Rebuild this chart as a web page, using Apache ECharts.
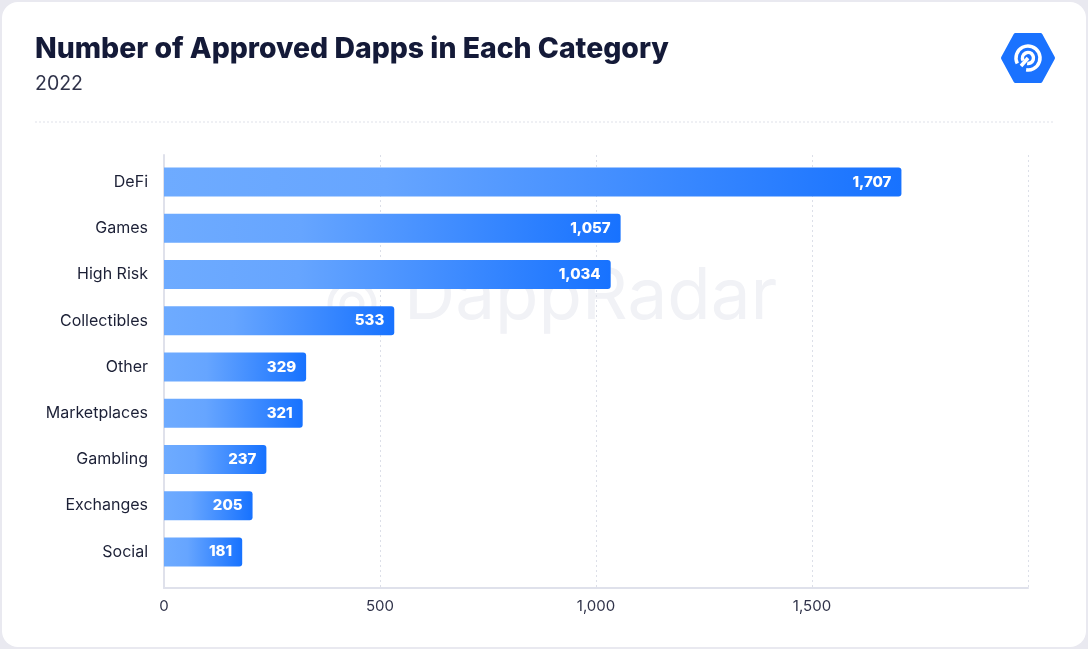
<!DOCTYPE html>
<html>
<head>
<meta charset="utf-8">
<style>
  html, body { margin: 0; padding: 0; background: #e9e9f0; }
  #card { position: absolute; left: 2px; top: 2px; width: 1084px; height: 645px; background: #fff; border-radius: 16px; overflow: hidden; }
  #chart { position: absolute; left: -2px; top: -2px; width: 1088px; height: 649px; }
</style>
<script src="https://cdn.jsdelivr.net/npm/echarts@6/dist/echarts.min.js"></script>
</head>
<body>
<div id="card"><div id="chart"></div></div>
<script>
// categories top to bottom
var categories = ["DeFi", "Games", "High Risk", "Collectibles", "Other", "Marketplaces", "Gambling", "Exchanges", "Social"];
var dappCounts = [1707, 1057, 1034, 533, 329, 321, 237, 205, 181];
var axisMax = 2000;
var axisStep = 500;

var myChart = echarts.init(document.getElementById("chart"));

function fmt(v) {
    return Number(v).toLocaleString("en-US");
}

// flat-top hexagon for the logo
function hexPoints(cx, cy, rx, ry) {
    return [[cx - rx, cy], [cx - rx / 2, cy - ry], [cx + rx / 2, cy - ry], [cx + rx, cy], [cx + rx / 2, cy + ry], [cx - rx / 2, cy + ry]];
}

var option = {
    animation: false,
    textStyle: { fontFamily: "Inter, 'Noto Sans', sans-serif" },
    graphic: [
        // title & subtitle
        { type: "text", left: 35, top: 35, style: { text: "Number of Approved Dapps in Each Category", font: "800 28.4px Inter, sans-serif", fill: "#141a38" } },
        { type: "text", left: 35, top: 74, style: { text: "2022", font: "400 19.5px Inter, sans-serif", fill: "#30334a" } },
        // divider
        { type: "line", shape: { x1: 35, y1: 122, x2: 1053, y2: 122 }, style: { stroke: "#e0e1ea", lineWidth: 1, lineDash: [2, 2] } },
        // logo
        { type: "polygon", shape: { points: hexPoints(1028, 58, 25, 23) }, style: { fill: "#1a72ff", stroke: "#1a72ff", lineWidth: 4, lineJoin: "round" } },
        { type: "arc", shape: { cx: 1028, cy: 58, r: 12, startAngle: Math.PI * 0.85, endAngle: Math.PI * 0.55 }, style: { stroke: "#fff", lineWidth: 3.5, fill: null } },
        { type: "arc", shape: { cx: 1028, cy: 58, r: 5.5, startAngle: Math.PI * 0.85, endAngle: Math.PI * 0.55 }, style: { stroke: "#fff", lineWidth: 3.5, fill: null } },
        { type: "line", shape: { x1: 1028, y1: 58, x2: 1021, y2: 66 }, style: { stroke: "#fff", lineWidth: 3.5 } },
        // watermark
        { type: "group", z: -10, children: [
            { type: "arc", shape: { cx: 352, cy: 304, r: 22, startAngle: Math.PI * 0.85, endAngle: Math.PI * 0.55 }, style: { stroke: "#f1f2f6", lineWidth: 5, fill: null } },
            { type: "arc", shape: { cx: 352, cy: 304, r: 10, startAngle: Math.PI * 0.85, endAngle: Math.PI * 0.55 }, style: { stroke: "#f1f2f6", lineWidth: 5, fill: null } },
            { type: "text", left: 404, top: 262, style: { text: "DappRadar", font: "400 71px Inter, sans-serif", fill: "#f1f2f6" } }
        ] }
    ],
    grid: [
        // frame grid: axis lines, split lines, value labels
        { left: 164, right: 60, top: 155, bottom: 61 },
        // bar grid
        { left: 164, right: 60, top: 159, bottom: 74 }
    ],
    xAxis: [{
        gridIndex: 0,
        type: "value",
        min: 0,
        max: axisMax,
        interval: axisStep,
        axisLine: { show: true, lineStyle: { color: "#dfe1eb", width: 2 } },
        axisTick: { show: false },
        splitLine: { show: true, lineStyle: { color: "#dcdfe8", type: [2, 3], width: 1 } },
        axisLabel: { showMaxLabel: false, margin: 11, color: "#30334a", fontSize: 15, formatter: fmt }
    }, {
        gridIndex: 1,
        type: "value",
        min: 0,
        max: axisMax,
        show: false
    }],
    yAxis: [{
        gridIndex: 0,
        type: "value",
        min: 0,
        max: 1,
        axisLine: { show: true, lineStyle: { color: "#dfe1eb", width: 2 } },
        axisTick: { show: false },
        axisLabel: { show: false },
        splitLine: { show: false }
    }, {
        gridIndex: 1,
        type: "category",
        inverse: true,
        data: categories,
        axisLine: { show: false },
        axisTick: { show: false },
        axisLabel: { margin: 16, color: "#1c2036", fontSize: 16 }
    }],
    series: [{
        type: "bar",
        xAxisIndex: 1,
        yAxisIndex: 1,
        data: dappCounts,
        barWidth: 29,
        itemStyle: {
            borderRadius: [0, 3, 3, 0],
            color: new echarts.graphic.LinearGradient(0, 0, 1, 0, [
                { offset: 0, color: "#6eabff" },
                { offset: 0.3, color: "#66a5ff" },
                { offset: 1, color: "#1772ff" }
            ])
        },
        label: {
            show: true,
            position: "insideRight",
            distance: 10,
            color: "#fff",
            fontSize: 15,
            fontWeight: 800,
            formatter: function (p) { return fmt(p.value); }
        }
    }]
};

myChart.setOption(option);
</script>
</body>
</html>
